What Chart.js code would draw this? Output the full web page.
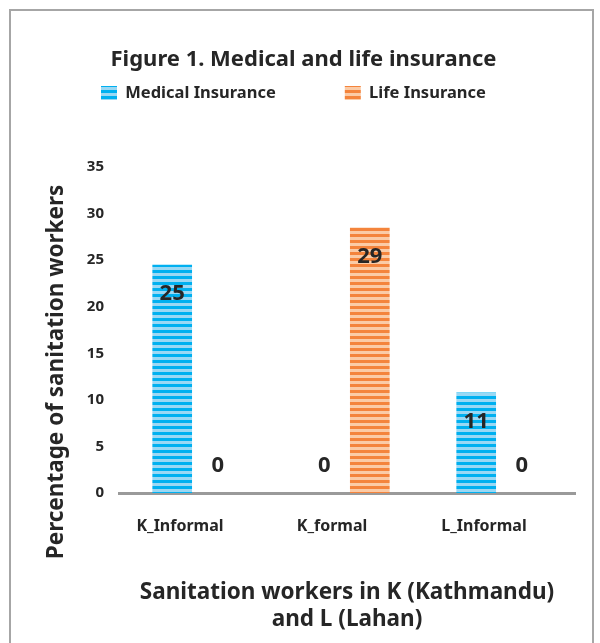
<!DOCTYPE html>
<html><head><meta charset="utf-8">
<script src="https://cdn.jsdelivr.net/npm/chart.js@4"></script>
<style>
html,body{margin:0;padding:0;background:#fff;}
#frame{position:absolute;left:9px;top:9px;width:581px;height:700px;border:2px solid #a6a6a6;}
#wrap{position:absolute;left:0;top:0;width:600px;height:643px;}
</style></head><body>
<div id="frame"></div>
<div id="wrap"><canvas id="c" width="600" height="643"></canvas></div>
<script>
const categories = ['K_Informal', 'K_formal', 'L_Informal'];
const seriesNames = ['Medical Insurance', 'Life Insurance'];
const medicalInsurance = [24.5, 0, 10.8];
const lifeInsurance = [0, 28.5, 0];
const yTicks = [0, 5, 10, 15, 20, 25, 30, 35];
const chartTitle = 'Figure 1. Medical and life insurance';
const xTitle = ['Sanitation workers in K (Kathmandu)', 'and L (Lahan)'];
const yTitle = 'Percentage of sanitation workers';

const FONT = '"Noto Sans", "Open Sans", sans-serif';
const TXT = '#262626';

function stripes(dark, light) {
  const p = document.createElement('canvas');
  p.width = 6; p.height = 6;
  const g = p.getContext('2d');
  g.fillStyle = light; g.fillRect(0, 0, 6, 6);
  g.fillStyle = dark; g.fillRect(0, 0, 6, 3);
  return document.getElementById('c').getContext('2d').createPattern(p, 'repeat');
}
const bluePat = stripes('#00B0F0', '#9AD8F4');
const orangePat = stripes('#F4843C', '#FBCBA6');

const valueLabels = {
  id: 'valueLabels',
  afterDatasetsDraw(chart) {
    const ctx = chart.ctx;
    ctx.save();
    ctx.font = 'bold 22px ' + FONT;
    ctx.fillStyle = TXT;
    ctx.textAlign = 'center';
    ctx.textBaseline = 'middle';
    chart.data.datasets.forEach((ds, di) => {
      const meta = chart.getDatasetMeta(di);
      meta.data.forEach((el, i) => {
        const v = ds.data[i];
        const y = v > 0 ? el.y + 29 : el.base - 27;
        ctx.fillText(String(Math.round(v)), el.x, y);
      });
    });
    ctx.restore();
  }
};

const yAxisTitle = {
  id: 'yAxisTitle',
  afterDraw(chart) {
    const ctx = chart.ctx;
    ctx.save();
    ctx.translate(57, 372);
    ctx.rotate(-Math.PI / 2);
    ctx.font = 'bold 22.5px ' + FONT;
    ctx.fillStyle = TXT;
    ctx.textAlign = 'center';
    ctx.textBaseline = 'middle';
    ctx.fillText(yTitle, 0, 0);
    ctx.restore();
  }
};

new Chart(document.getElementById('c'), {
  type: 'bar',
  data: {
    labels: categories,
    datasets: [
      { label: seriesNames[0], data: medicalInsurance, backgroundColor: bluePat, borderWidth: 0 },
      { label: seriesNames[1], data: lifeInsurance, backgroundColor: orangePat, borderWidth: 0 }
    ]
  },
  options: {
    responsive: false,
    animation: false,
    devicePixelRatio: 1,
    layout: { padding: { left: 32, right: 25, top: 0, bottom: 0 } },
    datasets: { bar: { categoryPercentage: 0.6, barPercentage: 0.87 } },
    plugins: {
      title: {
        display: true, text: chartTitle, color: TXT,
        font: { family: FONT, size: 22, weight: 'bold', lineHeight: 1.2 },
        padding: { top: 46.8, bottom: -57.45 }
      },
      subtitle: {
        display: true, text: '', weight: 500,
        font: { size: 1, lineHeight: 1 },
        padding: { top: 0, bottom: 54.75 }
      },
      legend: {
        display: true, position: 'top', align: 'start',
        labels: {
          boxWidth: 16, boxHeight: 14, padding: 69, color: TXT,
          font: { family: FONT, size: 16.5, weight: 'bold' }
        }
      },
      tooltip: { enabled: false }
    },
    scales: {
      x: {
        grid: { display: false, drawTicks: false },
        border: { display: true, color: '#9a9a9a', width: 3 },
        ticks: { color: TXT, padding: 24, labelOffset: -15, font: { family: FONT, size: 16, weight: 'bold' } },
        title: {
          display: true, text: xTitle, color: TXT,
          font: { family: FONT, size: 22.5, weight: 'bold', lineHeight: 1.2 },
          padding: { top: 19.3, bottom: 9.5 }
        }
      },
      y: {
        min: 0, max: 35,
        afterBuildTicks: s => { s.ticks = yTicks.map(v => ({ value: v })); },
        afterFit: s => { s.width = 87; },
        grid: { display: false, drawTicks: false },
        border: { display: false },
        ticks: { color: TXT, padding: 15, font: { family: FONT, size: 15, weight: 'bold' } }
      }
    }
  },
  plugins: [valueLabels, yAxisTitle]
});
</script>
</body></html>
